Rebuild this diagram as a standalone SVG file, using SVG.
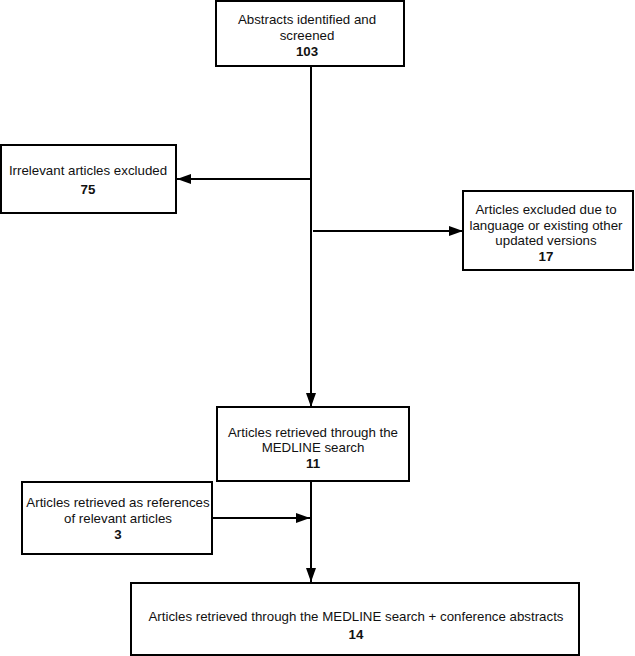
<svg xmlns="http://www.w3.org/2000/svg" width="635" height="656" viewBox="0 0 635 656">
<style>
.box{fill:#fff;stroke:#000;stroke-width:2}
.t{font-family:"Liberation Sans",Arial,sans-serif;font-size:13.3px;text-anchor:middle;fill:#111}
.b{font-weight:bold}
.ln{stroke:#000;stroke-width:2;fill:none}
</style>
<defs>
<marker id="ah" viewBox="0 0 14 10" refX="14" refY="5" markerWidth="14" markerHeight="10" markerUnits="userSpaceOnUse" orient="auto">
<path d="M0,0 L14,5 L0,10 Z" fill="#000"/>
</marker>
</defs>
<g id="connectors">
<line class="ln" x1="311" y1="66" x2="311" y2="407" marker-end="url(#ah)"/>
<line class="ln" x1="311" y1="179" x2="177" y2="179" marker-end="url(#ah)"/>
<line class="ln" x1="313" y1="231" x2="463" y2="231" marker-end="url(#ah)"/>
<line class="ln" x1="311" y1="481" x2="311" y2="582" marker-end="url(#ah)"/>
<line class="ln" x1="212" y1="518" x2="310" y2="518" marker-end="url(#ah)"/>
</g>
<g id="n1">
<rect class="box" x="216" y="1" width="188" height="65"/>
<text class="t" x="307" y="24">Abstracts identified and</text>
<text class="t" x="307" y="40">screened</text>
<text class="t b" x="307" y="56">103</text>
</g>
<g id="n2">
<rect class="box" x="1" y="145" width="175" height="68"/>
<text class="t" x="88" y="175">Irrelevant articles excluded</text>
<text class="t b" x="88" y="194">75</text>
</g>
<g id="n3">
<rect class="box" x="463" y="191" width="170" height="79"/>
<text class="t" x="546" y="214">Articles excluded due to</text>
<text class="t" x="546" y="230">language or existing other</text>
<text class="t" x="546" y="245">updated versions</text>
<text class="t b" x="546" y="261">17</text>
</g>
<g id="n4">
<rect class="box" x="217" y="407" width="192" height="74"/>
<text class="t" x="313" y="437">Articles retrieved through the</text>
<text class="t" x="313" y="452">MEDLINE search</text>
<text class="t b" x="313" y="468">11</text>
</g>
<g id="n5">
<rect class="box" x="22" y="482" width="190" height="72"/>
<text class="t" x="118" y="507">Articles retrieved as references</text>
<text class="t" x="118" y="523">of relevant articles</text>
<text class="t b" x="118" y="539">3</text>
</g>
<g id="n6">
<rect class="box" x="131" y="583" width="448" height="72"/>
<text class="t" x="356" y="621">Articles retrieved through the MEDLINE search + conference abstracts</text>
<text class="t b" x="356" y="639">14</text>
</g>
</svg>
